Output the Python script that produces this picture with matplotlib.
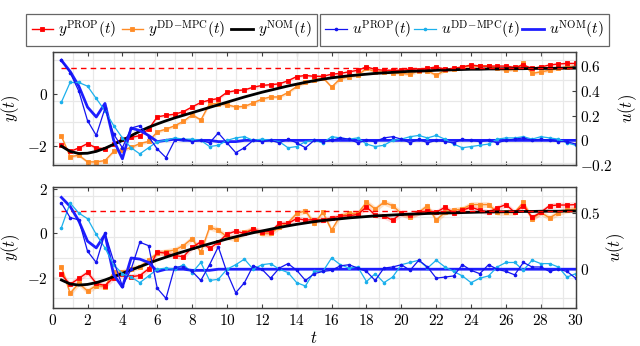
import numpy as np
import matplotlib
matplotlib.use("Agg")
import matplotlib.pyplot as plt
from matplotlib.ticker import MultipleLocator

plt.rcParams['font.family'] = 'serif'
plt.rcParams['font.serif'] = ['cmr10', 'DejaVu Serif']
plt.rcParams['mathtext.fontset'] = 'cm'
plt.rcParams['axes.formatter.use_mathtext'] = True

# time steps
t = np.arange(0.5, 30.01, 0.5)
y_ref = 1.0

# ---- top panel ----
y_prop_1 = [-1.94, -2.2, -2.07, -1.9, -2.07, -2.1, -1.9, -1.72, -1.66, -1.6,
            -1.35, -0.88, -0.82, -0.78, -0.68, -0.5, -0.33, -0.24, -0.18, 0.06,
            0.12, 0.15, 0.25, 0.32, 0.35, 0.38, 0.5, 0.66, 0.7, 0.67,
            0.67, 0.75, 0.78, 0.84, 0.9, 1.03, 0.93, 0.9, 0.9, 0.9,
            0.93, 0.9, 0.97, 1.03, 0.93, 0.97, 1.03, 1.1, 1.06, 1.06,
            1.06, 1.06, 1.01, 1.1, 0.97, 1.03, 1.1, 1.14, 1.16, 1.16]
y_dd_1 = [-1.62, -2.4, -2.35, -2.6, -2.6, -2.55, -2.2, -2.15, -2.05, -1.9,
          -1.82, -1.45, -1.35, -1.22, -1.05, -0.8, -1.0, -0.38, -0.38, -0.42,
          -0.5, -0.48, -0.35, -0.2, -0.12, -0.12, 0.05, 0.28, 0.45, 0.52,
          0.62, 0.26, 0.58, 0.65, 0.71, 0.97, 0.84, 0.84, 0.8, 0.78,
          0.75, 0.88, 0.88, 0.71, 0.9, 0.93, 1.03, 1.06, 1.06, 1.06,
          0.97, 0.9, 0.93, 1.16, 0.78, 0.84, 0.9, 0.97, 1.03, 1.06]
y_nom_1 = [-2.0, -2.2, -2.28, -2.27, -2.2, -2.08, -1.93, -1.78, -1.6, -1.43,
           -1.28, -1.15, -1.03, -0.92, -0.82, -0.72, -0.62, -0.52, -0.42, -0.32,
           -0.22, -0.12, -0.03, 0.06, 0.14, 0.22, 0.3, 0.37, 0.44, 0.5,
           0.56, 0.61, 0.65, 0.69, 0.72, 0.75, 0.78, 0.8, 0.82, 0.84,
           0.86, 0.87, 0.88, 0.9, 0.91, 0.92, 0.93, 0.94, 0.94, 0.95,
           0.95, 0.96, 0.96, 0.96, 0.97, 0.97, 0.97, 0.98, 0.98, 0.98]
u_prop_1 = [0.65, 0.55, 0.4, 0.16, 0.04, 0.26, 0.05, -0.06, 0.1, 0.12,
            0.03, -0.07, -0.14, 0.0, 0.01, -0.01, 0.0, -0.02, 0.06, -0.02,
            -0.1, -0.06, 0.0, -0.01, 0.0, -0.02, 0.01, -0.02, -0.06, 0.0,
            -0.01, 0.0, 0.02, 0.01, -0.02, 0.0, -0.01, 0.02, 0.03, 0.01,
            -0.02, 0.01, -0.02, 0.0, -0.01, -0.02, 0.01, 0.0, -0.01, 0.0,
            -0.02, 0.0, 0.01, 0.02, 0.0, 0.01, 0.0, -0.01, -0.01, -0.03]
u_dd_1 = [0.31, 0.47, 0.47, 0.44, 0.34, 0.24, 0.12, 0.02, -0.06, -0.11,
          -0.06, -0.01, 0.0, 0.02, 0.01, 0.01, 0.0, -0.05, -0.04, 0.0,
          0.02, 0.03, 0.0, 0.01, 0.0, -0.01, -0.06, -0.05, -0.01, 0.0,
          -0.02, 0.03, 0.02, 0.01, 0.02, -0.03, -0.05, -0.04, 0.0, 0.01,
          0.03, 0.04, 0.02, 0.04, 0.01, -0.03, -0.06, -0.05, -0.04, -0.03,
          0.01, 0.02, 0.02, 0.03, 0.01, 0.03, 0.02, 0.01, -0.02, -0.04]
u_nom_1 = [0.65, 0.56, 0.44, 0.27, 0.19, 0.3, 0.0, -0.15, 0.1, 0.08,
           0.04, -0.01, 0.0, 0.01, 0.0, 0.0, 0.0, 0.0, -0.01, -0.01,
           -0.01, 0.0, 0.0, 0.0, 0.0, 0.0, 0.0, 0.0, 0.0, 0.0,
           0.0, 0.0, 0.0, 0.0, 0.0, 0.0, 0.0, 0.0, 0.0, 0.0,
           0.0, 0.0, 0.0, 0.0, 0.0, 0.0, 0.0, 0.0, 0.0, 0.0,
           0.0, 0.0, 0.0, 0.0, 0.0, 0.0, 0.0, 0.0, 0.0, 0.0]

# ---- bottom panel ----
y_prop_2 = [-1.85, -2.3, -2.03, -1.76, -2.25, -2.35, -2.0, -1.85, -1.95, -1.9,
            -1.6, -0.83, -0.9, -1.0, -1.05, -0.63, -0.38, -0.68, -0.4, -0.03,
            0.1, 0.0, 0.18, 0.08, 0.08, 0.45, 0.45, 0.67, 0.6, 0.62,
            0.6, 0.7, 0.78, 0.8, 0.85, 1.2, 0.82, 0.78, 0.6, 0.9,
            0.83, 0.95, 1.0, 0.95, 1.18, 0.92, 1.05, 1.18, 1.05, 0.95,
            1.15, 1.3, 0.95, 1.25, 0.72, 0.95, 1.25, 1.28, 1.28, 1.3]
y_dd_2 = [-1.5, -2.7, -2.25, -2.6, -2.35, -2.4, -1.75, -1.75, -1.6, -1.5,
          -1.2, -0.9, -0.82, -0.75, -0.55, -0.23, -0.85, 0.28, 0.15, -0.15,
          -0.25, 0.05, 0.2, 0.0, 0.0, 0.3, 0.48, 0.9, 1.02, 0.45,
          0.95, 0.15, 0.8, 0.9, 0.9, 1.4, 1.1, 1.4, 1.25, 0.9,
          0.75, 0.95, 1.25, 0.6, 0.95, 1.05, 1.1, 1.3, 1.3, 1.3,
          0.95, 0.95, 0.95, 1.4, 0.65, 0.95, 0.7, 0.93, 1.05, 1.1]
y_nom_2 = [-2.1, -2.28, -2.33, -2.3, -2.22, -2.1, -1.95, -1.8, -1.65, -1.5,
           -1.35, -1.2, -1.07, -0.94, -0.82, -0.7, -0.58, -0.47, -0.36, -0.25,
           -0.15, -0.06, 0.03, 0.11, 0.19, 0.27, 0.34, 0.41, 0.47, 0.53,
           0.58, 0.62, 0.66, 0.7, 0.73, 0.76, 0.79, 0.81, 0.83, 0.85,
           0.87, 0.88, 0.9, 0.91, 0.92, 0.93, 0.94, 0.95, 0.96, 0.97,
           0.97, 0.98, 0.98, 0.99, 0.99, 1.0, 1.0, 1.0, 1.01, 1.01]
u_prop_2 = [0.59, 0.46, 0.44, 0.16, 0.06, 0.32, 0.07, -0.15, 0.0, 0.24,
            0.21, -0.17, -0.26, 0.02, 0.02, -0.02, -0.1, 0.04, 0.2, -0.03,
            -0.21, -0.12, 0.03, 0.0, -0.08, 0.01, 0.05, -0.01, -0.1, -0.04,
            -0.02, -0.01, 0.03, 0.04, 0.01, -0.02, -0.1, 0.01, 0.02, 0.04,
            -0.01, 0.08, 0.02, -0.08, -0.07, -0.06, 0.04, -0.01, -0.04, 0.04,
            0.0, -0.02, -0.05, 0.06, 0.02, 0.02, -0.02, 0.0, -0.02, -0.08]
u_dd_2 = [0.37, 0.59, 0.5, 0.45, 0.31, 0.19, 0.04, -0.04, -0.07, -0.12,
          -0.06, 0.0, 0.01, 0.0, 0.04, -0.03, 0.06, -0.1, -0.09, 0.0,
          0.04, 0.09, 0.0, 0.04, 0.05, 0.0, -0.03, -0.12, -0.15, -0.02,
          -0.02, 0.1, 0.04, 0.01, 0.02, -0.11, -0.04, -0.12, -0.07, 0.04,
          0.06, 0.08, 0.01, 0.08, 0.02, -0.02, -0.06, -0.12, -0.08, -0.06,
          0.02, 0.06, 0.06, -0.01, 0.08, 0.05, 0.05, 0.02, -0.07, -0.04]
u_nom_2 = [0.64, 0.56, 0.43, 0.25, 0.19, 0.31, -0.05, -0.16, 0.1, 0.09,
           0.06, -0.02, 0.0, 0.0, 0.0, -0.01, -0.01, -0.01, 0.0, 0.0,
           0.0, 0.0, 0.0, 0.0, 0.0, 0.0, 0.0, 0.0, 0.0, 0.0,
           0.0, 0.0, 0.0, 0.0, 0.0, 0.0, 0.0, 0.0, 0.0, 0.0,
           0.0, 0.0, 0.0, 0.0, 0.0, 0.0, 0.0, 0.0, 0.0, 0.0,
           0.0, 0.0, 0.0, 0.0, 0.0, 0.0, 0.0, 0.0, 0.0, 0.0]

band_1 = 0.06
band_2 = 0.13

x_ticks = list(range(0, 31, 2))
y_ticks_1 = [-2, 0]
u_ticks_1 = [-0.2, 0, 0.2, 0.4, 0.6]
y_ticks_2 = [-2, 0, 2]
u_ticks_2 = [0, 0.5]

RED = '#ff0000'
ORANGE = '#ff8c26'
CYAN = '#1cb0ec'
BLUE = '#1414f0'
BLUE_THICK = '#1e1eff'
SPINE = '#404040'
GRIDC = '#e8e8e8'

fig = plt.figure(figsize=(6.4, 3.46), dpi=100)
ax1 = fig.add_axes([0.0823, 0.5231, 0.8172, 0.3275])
ax2 = fig.add_axes([0.0823, 0.1107, 0.8172, 0.348])


def fmt(v):
    return f'${v:g}$'


def panel(ax, yp, yd, yn, up, ud, un, band, ylim, ulim, yt, ut, grid_step, grid_off):
    ax.set_xlim(0, 30)
    ax.set_ylim(*ylim)
    ax.xaxis.set_minor_locator(MultipleLocator(1.17))
    ax.yaxis.set_minor_locator(MultipleLocator(grid_step, offset=grid_off))
    ax.grid(which='minor', color=GRIDC, lw=0.9)
    ax.set_axisbelow(True)

    yp = np.array(yp)
    yd = np.array(yd)
    ax.fill_between(t, yd - band, yd + band, color=ORANGE, alpha=0.25, lw=0)
    ax.fill_between(t, yp - band, yp + band, color=RED, alpha=0.15, lw=0)
    h_d, = ax.plot(t, yd, color=ORANGE, lw=1.0, marker='s', ms=2.8,
                   markerfacecolor=ORANGE, markeredgewidth=0.6,
                   label=r'$y^{\mathrm{DD\!-\!MPC}}(t)$')
    h_p, = ax.plot(t, yp, color=RED, lw=1.0, marker='s', ms=2.8,
                   markeredgewidth=0.6, label=r'$y^{\mathrm{PROP}}(t)$')
    h_n, = ax.plot(t, yn, color='black', lw=2.0, label=r'$y^{\mathrm{NOM}}(t)$')
    ax.hlines(y_ref, t[0], t[-1], colors=RED, linestyles=(0, (4, 3)), lw=1.0)

    ax.set_xticks(x_ticks)
    ax.set_yticks(yt)
    ax.set_yticklabels([fmt(v) for v in yt])
    ax.tick_params(which='major', direction='in', length=3, top=True,
                   labelsize=11, color=SPINE)
    ax.tick_params(which='minor', length=0)
    ax.set_ylabel(r'$y(t)$', fontsize=12, labelpad=4)

    bx = ax.twinx()
    bx.set_ylim(*ulim)
    h_un, = bx.plot(t, un, color=BLUE_THICK, lw=2.0, label=r'$u^{\mathrm{NOM}}(t)$')
    h_ud, = bx.plot(t, ud, color=CYAN, lw=0.9, marker='o', ms=1.6,
                    label=r'$u^{\mathrm{DD\!-\!MPC}}(t)$')
    h_up, = bx.plot(t, up, color=BLUE, lw=0.9, marker='o', ms=1.6,
                    label=r'$u^{\mathrm{PROP}}(t)$')
    bx.set_yticks(ut)
    bx.set_yticklabels([fmt(v) for v in ut])
    bx.tick_params(direction='in', length=3, labelsize=11, color=SPINE, pad=3)
    bx.set_ylabel(r'$u(t)$', fontsize=12, labelpad=3)
    for a in (ax, bx):
        for s in a.spines.values():
            s.set_color(SPINE)
            s.set_linewidth(0.9)
    return [h_p, h_d, h_n], [h_up, h_ud, h_un]


hy, hu = panel(ax1, y_prop_1, y_dd_1, y_nom_1, u_prop_1, u_dd_1, u_nom_1, band_1,
               (-2.72, 1.61), (-0.2, 0.72), y_ticks_1, u_ticks_1, 0.79, 0.52)
panel(ax2, y_prop_2, y_dd_2, y_nom_2, u_prop_2, u_dd_2, u_nom_2, band_2,
      (-3.35, 2.08), (-0.343, 0.73), y_ticks_2, u_ticks_2, 0.92, 0.75)

ax1.tick_params(labelbottom=False)
ax2.set_xticklabels([fmt(v) for v in x_ticks])
ax2.set_xlabel(r'$t$', fontsize=12, labelpad=2)

leg_kw = dict(ncol=3, loc='lower left', mode='expand', frameon=True,
              fancybox=False, fontsize=11, handlelength=1.4, handletextpad=0.35,
              columnspacing=0.4, borderpad=0.35, borderaxespad=0.0)
l1 = fig.legend(handles=hy, bbox_to_anchor=(0.041, 0.866, 0.454, 0.05), **leg_kw)
l2 = fig.legend(handles=hu, bbox_to_anchor=(0.5, 0.866, 0.452, 0.05), **leg_kw)
for lg in (l1, l2):
    lg.get_frame().set_edgecolor(SPINE)
    lg.get_frame().set_linewidth(0.9)

fig.savefig('out.png', dpi=100)
